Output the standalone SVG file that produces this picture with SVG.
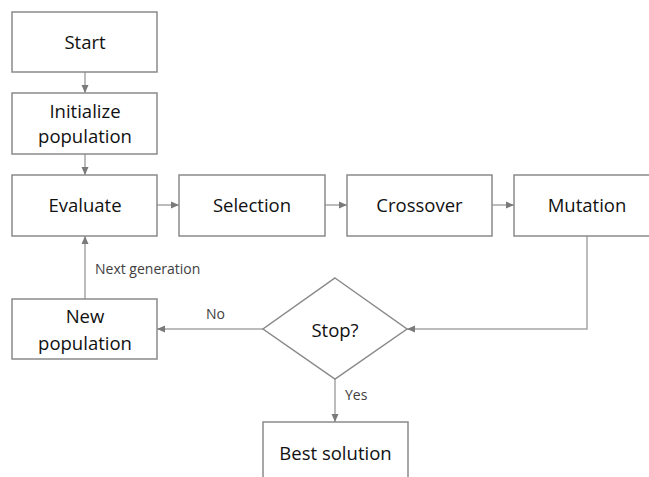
<svg xmlns="http://www.w3.org/2000/svg" width="649" height="477" viewBox="0 0 649 477">
<style>
.box{fill:#fff;stroke:#8a8a8a;stroke-width:1.5}
.t{font-family:"Open Sans","Noto Sans",sans-serif;font-size:18.5px;fill:#111;text-anchor:middle}
.l{font-family:"Open Sans","Noto Sans",sans-serif;font-size:14px;fill:#404040}
.c{fill:none;stroke:#a6a6a6;stroke-width:1.5}
</style>
<defs>
<marker id="a" viewBox="0 0 8 8" refX="8" refY="4" markerWidth="8" markerHeight="8" markerUnits="userSpaceOnUse" orient="auto">
<path d="M0,0.5 L8,4 L0,7.5 z" fill="#7a7a7a"/>
</marker>
</defs>
<rect width="649" height="477" fill="#fff"/>
<g id="connectors">
<line class="c" x1="85" y1="72" x2="85" y2="93" marker-end="url(#a)"/>
<line class="c" x1="85" y1="154" x2="85" y2="175" marker-end="url(#a)"/>
<line class="c" x1="157" y1="205" x2="179" y2="205" marker-end="url(#a)"/>
<line class="c" x1="325" y1="205" x2="347" y2="205" marker-end="url(#a)"/>
<line class="c" x1="492" y1="205" x2="514" y2="205" marker-end="url(#a)"/>
<polyline class="c" points="587,236 587,329 407,329" marker-end="url(#a)"/>
<line class="c" x1="263" y1="329" x2="157" y2="329" marker-end="url(#a)"/>
<line class="c" x1="335" y1="379" x2="335" y2="422" marker-end="url(#a)"/>
<line class="c" x1="85" y1="299" x2="85" y2="236" marker-end="url(#a)"/>
<text class="l" x="95" y="274">Next generation</text>
<text class="l" x="206" y="319">No</text>
<text class="l" x="345" y="400">Yes</text>
</g>
<g id="start"><rect class="box" x="12" y="12" width="145" height="60"/><text class="t" x="85" y="49">Start</text></g>
<g id="init"><rect class="box" x="12" y="93" width="145" height="61"/><text class="t" x="85" y="118">Initialize</text><text class="t" x="85" y="143">population</text></g>
<g id="evaluate"><rect class="box" x="12" y="175" width="145" height="61"/><text class="t" x="85" y="212">Evaluate</text></g>
<g id="selection"><rect class="box" x="179" y="175" width="146" height="61"/><text class="t" x="252" y="212">Selection</text></g>
<g id="crossover"><rect class="box" x="347" y="175" width="145" height="61"/><text class="t" x="419.5" y="212">Crossover</text></g>
<g id="mutation"><rect class="box" x="514" y="175" width="146" height="61"/><text class="t" x="587" y="212">Mutation</text></g>
<g id="newpop"><rect class="box" x="12" y="299" width="145" height="60"/><text class="t" x="85" y="323">New</text><text class="t" x="85" y="350">population</text></g>
<g id="stop"><polygon class="box" points="335,278 407,329 335,379 263,329"/><text class="t" x="335" y="337">Stop?</text></g>
<g id="best"><rect class="box" x="263" y="422" width="145" height="62"/><text class="t" x="335.5" y="460">Best solution</text></g>
</svg>
